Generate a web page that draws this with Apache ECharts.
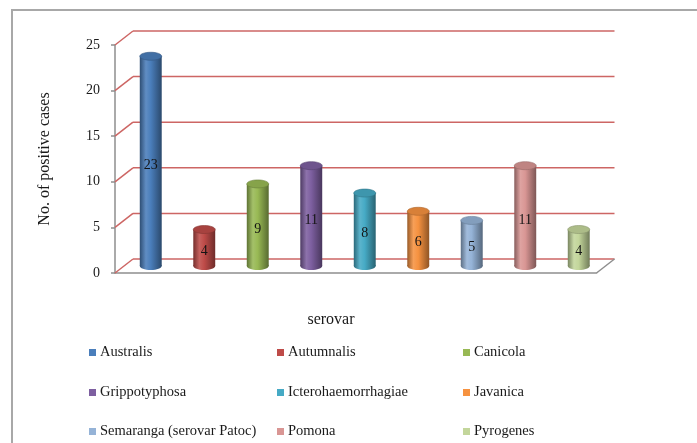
<!DOCTYPE html>
<html>
<head>
<meta charset="utf-8">
<title>Positive cases by serovar</title>
<script src="https://cdn.jsdelivr.net/npm/echarts@6/dist/echarts.min.js"></script>
<style>
  html, body { margin: 0; padding: 0; background: #ffffff; }
  #chart { width: 697px; height: 443px; }
</style>
</head>
<body>
<div id="chart"></div>
<script>
// Serovars and the number of positive cases for each
const serovars = [
  'Australis', 'Autumnalis', 'Canicola',
  'Grippotyphosa', 'Icterohaemorrhagiae', 'Javanica',
  'Semaranga (serovar Patoc)', 'Pomona', 'Pyrogenes'
];
const positiveCases = [23, 4, 9, 11, 8, 6, 5, 11, 4];
const serovarColors = [
  '#4a7ebb', '#be4b48', '#98b954',
  '#7d5fa0', '#46aac5', '#f69240',
  '#95b3d7', '#d99694', '#c3d69b'
];
// Value axis ticks
const yTicks = [0, 5, 10, 15, 20, 25];

const FONT = '"Liberation Serif", "Times New Roman", serif';
const GRID_RED = '#cd6664';
const AXIS_GRAY = '#8e8e8e';
// Depth of the box (back wall offset from the front plane)
const DEPTH_X = 18, DEPTH_Y = -14;

function shade(hex, amt) {
  const n = parseInt(hex.slice(1), 16);
  let r = (n >> 16) & 255, g = (n >> 8) & 255, b = n & 255;
  const t = amt < 0 ? 0 : 255, p = Math.abs(amt);
  r = Math.round((t - r) * p + r);
  g = Math.round((t - g) * p + g);
  b = Math.round((t - b) * p + b);
  return 'rgb(' + r + ',' + g + ',' + b + ')';
}

// Back wall, side lines and floor of the 3-D box
function renderFrame(params, api) {
  const cs = params.coordSys;
  const y = api.coord([0, api.value(1)])[1];
  const x0 = cs.x, x1 = cs.x + cs.width;
  const children = [
    { type: 'line', shape: { x1: x0, y1: y, x2: x0 + DEPTH_X, y2: y + DEPTH_Y },
      style: { stroke: GRID_RED, lineWidth: 1.5 } },
    { type: 'line', shape: { x1: x0 + DEPTH_X, y1: y + DEPTH_Y, x2: x1 + DEPTH_X, y2: y + DEPTH_Y },
      style: { stroke: GRID_RED, lineWidth: 1.5 } }
  ];
  if (api.value(1) === 0) {
    children.push({ type: 'line', shape: { x1: x1, y1: y, x2: x1 + DEPTH_X, y2: y + DEPTH_Y },
      style: { stroke: AXIS_GRAY, lineWidth: 1.5 } });
  }
  return { type: 'group', children: children };
}

// Cylinder-shaped bar with its value written inside
function renderCylinder(params, api) {
  const cat = api.value(0), val = api.value(1);
  const top = api.coord([cat, val]);
  const base = api.coord([cat, 0]);
  const w = api.size([1, 0])[0] * 0.41;
  const rx = w / 2, ry = 4;
  const color = api.visual('color');
  const body = {
    type: 'linear', x: 0, y: 0, x2: 1, y2: 0,
    colorStops: [
      { offset: 0, color: shade(color, -0.38) },
      { offset: 0.28, color: shade(color, 0.12) },
      { offset: 0.5, color: color },
      { offset: 1, color: shade(color, -0.42) }
    ]
  };
  return {
    type: 'group',
    children: [
      { type: 'ellipse', shape: { cx: top[0], cy: base[1], rx: rx, ry: ry }, style: { fill: body } },
      { type: 'rect', shape: { x: top[0] - rx, y: top[1], width: w, height: base[1] - top[1] }, style: { fill: body } },
      { type: 'ellipse', shape: { cx: top[0], cy: top[1], rx: rx, ry: ry },
        style: { fill: shade(color, -0.12), stroke: shade(color, -0.3), lineWidth: 0.6 } },
      { type: 'text', style: {
          text: String(val), x: top[0], y: (top[1] + base[1]) / 2 + 4,
          align: 'center', verticalAlign: 'middle',
          font: '14px ' + FONT, fill: '#141414' } }
    ]
  };
}

const legendCols = [89, 277, 463];
const legendRows = [352, 392, 431];

const legends = serovars.map((name, i) => ({
  data: [name],
  left: legendCols[i % 3],
  top: legendRows[Math.floor(i / 3)] - 7,
  padding: 0,
  itemGap: 0,
  itemWidth: 7,
  itemHeight: 7,
  icon: 'rect',
  selectedMode: false,
  textStyle: { fontFamily: FONT, fontSize: 14.5, color: '#1a1a1a', padding: [0, 0, 0, -1] }
}));

const cylinderSeries = serovars.map((name, i) => ({
  name: name,
  type: 'custom',
  xAxisIndex: 1,
  yAxisIndex: 1,
  z: 3,
  clip: false,
  itemStyle: { color: serovarColors[i] },
  renderItem: renderCylinder,
  data: [[i, positiveCases[i]]]
}));

const chart = echarts.init(document.getElementById('chart'), null, { renderer: 'canvas' });
chart.setOption({
  backgroundColor: '#ffffff',
  animation: false,
  graphic: [
    { type: 'rect', silent: true, z: -10,
      shape: { x: 12, y: 10, width: 720, height: 470 },
      style: { fill: 'none', stroke: '#a8a8a8', lineWidth: 2 } },
    { type: 'text', silent: true,
      style: { text: 'serovar', x: 331, y: 320, align: 'center', verticalAlign: 'middle',
               font: '16px ' + FONT, fill: '#1a1a1a' } }
  ],
  legend: legends,
  grid: [
    // front plane of the box
    { left: 115, top: 45, width: 481.5, height: 228 },
    // mid-depth plane where the cylinders stand
    { left: 115 + DEPTH_X / 2, top: 45 + DEPTH_Y / 2, width: 481.5, height: 228 }
  ],
  xAxis: [
    { type: 'category', gridIndex: 0, data: serovars,
      axisLine: { show: true, lineStyle: { color: AXIS_GRAY, width: 1.5 } },
      axisTick: { show: false }, axisLabel: { show: false }, splitLine: { show: false } },
    { type: 'category', gridIndex: 1, data: serovars, show: false }
  ],
  yAxis: [
    { type: 'value', gridIndex: 0, min: 0, max: 25, interval: 5,
      name: 'No. of positive cases', nameLocation: 'middle', nameGap: 62,
      nameTextStyle: { fontFamily: FONT, fontSize: 16, color: '#1a1a1a' },
      axisLine: { show: true, lineStyle: { color: AXIS_GRAY, width: 1.5 } },
      axisTick: { show: true, length: 4, lineStyle: { color: AXIS_GRAY, width: 1.5 } },
      axisLabel: { margin: 15, fontFamily: FONT, fontSize: 14, color: '#1a1a1a' },
      splitLine: { show: false } },
    { type: 'value', gridIndex: 1, min: 0, max: 25, interval: 5, show: false }
  ],
  series: [
    {
      type: 'custom',
      xAxisIndex: 0,
      yAxisIndex: 0,
      z: 1,
      clip: false,
      silent: true,
      renderItem: renderFrame,
      data: yTicks.map(v => [0, v])
    }
  ].concat(cylinderSeries)
});
</script>
</body>
</html>
